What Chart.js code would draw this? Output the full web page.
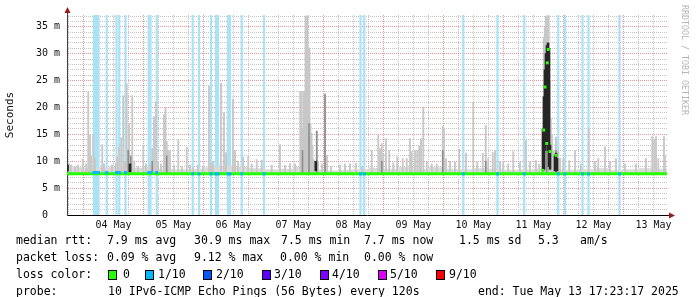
<!DOCTYPE html>
<html>
<head>
<meta charset="utf-8">
<script src="https://cdn.jsdelivr.net/npm/chart.js@4.4.1/dist/chart.umd.min.js"></script>
<style>
html, body { margin: 0; padding: 0; background: #fff; }
canvas { display: block; }
</style>
</head>
<body>
<canvas id="ping" width="697" height="297"></canvas>
<script>
// time axis is in hours counted from 03 May 00:00
var startHour = 17.4, endHour = 257.4;
var dayLabels = ['04 May','05 May','06 May','07 May','08 May','09 May','10 May','11 May','12 May','13 May'];

// median rtt (ms), stepped
var medianHours = [17.4, 57, 257.4];
var medianValues = [7.9, 7.65, 7.65];

// hours with 1/10 packet loss
var lossHours = [28.2, 28.8, 29.4, 30.0, 33.3, 37.2, 38.3, 40.8, 50.1, 50.8, 53.3, 67.7, 70.2, 75.0, 77.0, 77.8,
  81.8, 82.6, 87.3, 96.2, 134.8, 136.3, 175.9, 189.6, 200.3, 213.9, 216.6, 223.6, 226.0, 238.4];

// low smoke band just above the median
var bandHours = [18,24,30,36,42,48,54,60,66,72,78,84,90,96,102,108,114,120,126,132,138,144,150,156,162,168,
  174,180,186,192,198,204,210,216,222,228,234,240,246,252,258];
var bandTops = [8.8,8.9,8.7,8.9,9.0,8.8,8.9,8.6,8.5,8.6,8.9,9.2,9.0,8.7,8.5,8.6,9.0,8.5,8.3,8.4,8.5,8.8,8.6,8.9,
  8.5,8.9,8.6,8.5,8.7,8.6,8.4,8.5,8.6,8.5,8.4,8.5,8.7,8.4,8.5,8.7,8.6];

// light smoke spikes (max rtt of the round)
var smokeHours = [18.2,19.0,20.6,21.8,23.7,25.0,25.9,26.6,27.0,27.9,
  28.6,31.5,32.2,35.4,36.9,37.5,38.3,39.1,39.9,40.6,
  41.3,41.9,42.2,43.5,44.3,45.8,47.9,49.0,50.6,51.5,
  52.2,53.0,53.8,55.0,56.2,56.8,57.3,57.8,58.6,60.2,
  61.9,63.4,65.3,66.6,67.8,69.8,71.8,74.2,75.0,75.8,
  79.0,80.2,81.0,83.8,84.6,85.8,87.9,89.9,91.3,93.3,
  95.3,99.3,102.6,104.6,106.6,108.6,110.7,111.2,111.6,112.0,
  112.4,112.8,113.2,113.6,114.0,114.4,114.8,115.2,115.6,116.0,
  117.3,117.8,119.4,120.6,121.4,123.0,126.6,128.6,130.6,133.0,
  135.4,139.3,141.9,142.6,143.3,143.9,145.0,146.3,147.9,149.5,
  151.7,153.3,154.6,155.3,156.6,157.5,158.3,159.0,159.9,161.3,
  163.3,165.3,167.7,168.2,169.0,170.6,172.6,174.3,177.0,179.9,
  181.5,183.7,184.9,185.9,187.7,188.6,190.6,191.9,193.9,195.9,
  198.6,201.0,202.6,205.0,206.3,207.7,208.1,208.5,208.9,209.3,
  209.7,210.1,210.5,210.9,211.4,212.0,213.0,213.8,214.6,215.9,
  218.3,220.6,222.9,226.1,228.6,229.9,232.6,234.6,237.0,240.6,
  245.0,249.0,251.5,252.3,253.0,253.9,256.2,256.6];
var smokeTops = [9.5,9.3,9.0,9.3,10.4,9.5,22.8,15,11,15,
  10.5,13.1,9.5,9.3,9.6,10.8,12.6,14.4,22.2,10,
  24.4,12.4,17,22.2,10.1,9,13,9.5,9.3,12.4,
  18.3,21,10,9.5,18.7,20,13.7,12,12,9.2,
  13.9,9,12.6,9.3,8.8,9.3,9,24,9.5,10,
  24.5,19,11.6,21.5,12,10,10.8,10.9,9.5,10.3,
  10.2,9.3,13.1,9.3,9.5,9.5,23,23,16,23,
  23,37,37,37,31.2,31,17,15.2,13,10.3,
  15.6,10,9.5,22.5,11.1,9,9.3,9.5,9.5,9.6,
  9,12,14.8,12.3,13.3,11.4,14.2,12,9.7,10.8,
  10.5,10.5,14.2,11.8,12,12,12.9,14.2,20.1,9.8,
  9.5,9.5,16.5,16.1,10.5,10,9.8,12.3,11.5,21,
  9.8,11.5,16.7,10.5,11.6,12,10,10,9.5,11.8,
  9.8,13.9,9.8,10.1,9.5,14,33,35,37,37,
  37,37,25,18,15,12,14.5,12,10.5,10.5,
  10.1,12,9.5,16.1,10,10.5,12.7,10,10.5,9.5,
  9.5,10.5,14.6,13.9,14.6,10.5,14.6,11];

// darker smoke streaks
var darkHours = [41.9, 42.9, 51.5, 57.3, 111.6, 114.2, 117.3, 120.6, 143.3, 167.7, 184.9, 209.3, 213.0];
var darkTops = [12, 11, 10, 11, 12, 17, 15.6, 22.5, 10, 12, 10, 20, 12];

// dense (black) smoke
var coreHours = [17.6, 42.6, 116.9, 207.8, 208.2, 208.6, 209.0, 209.4, 209.8, 210.2, 210.6, 212.6, 213.0, 213.4];
var coreLows = [8.2, 8.0, 8.2, 8.3, 8.5, 12, 13, 13, 12, 9, 8.5, 8.2, 8.2, 8.2];
var coreTops = [9.3, 9.5, 10.0, 16, 22, 27, 30, 31.5, 32, 31, 13, 11, 11.5, 10.5];

// median values during the 11 May event
var spikeMedHours = [207.7, 208.1, 208.6, 209.3, 209.5, 209.9, 210.6, 213.0];
var spikeMedValues = [8.3, 15.8, 23.8, 13.3, 28.3, 30.8, 11.8, 11.1];

// legend
var rttStats = ['7.9 ms avg', '30.9 ms max', '7.5 ms min', '7.7 ms now', '1.5 ms sd', '5.3', 'am/s'];
var lossStats = ['0.09 % avg', '9.12 % max', '0.00 % min', '0.00 % now'];
var lossNames = ['0', '1/10', '2/10', '3/10', '4/10', '5/10', '9/10'];
var lossColors = ['#26ff00', '#00b8ff', '#0059ff', '#5e00ff', '#7e00ff', '#dd00ff', '#ff0000'];
var probeText = '10 IPv6-ICMP Echo Pings (56 Bytes) every 120s';
var endText = 'end: Tue May 13 17:23:17 2025';

function medianAt(h) {
  var v = medianValues[0];
  for (var i = 0; i < medianHours.length; i++) {
    if (medianHours[i] <= h) v = medianValues[i];
  }
  return v;
}

var xTicks = [];
for (var t = 18; t <= endHour; t += 6) xTicks.push(t);
var yTicks = [];
for (var k = 0; k <= 37; k++) yTicks.push(k);

var MONO = 'DejaVu Sans Mono';
var redGrid = 'rgba(215,70,70,0.55)';
var grayGrid = '#c4c4c4';

var decor = {
  id: 'decor',
  afterDraw: function(chart) {
    var ctx = chart.ctx, a = chart.chartArea;
    ctx.save();
    // axis arrows
    ctx.strokeStyle = '#404040';
    ctx.lineWidth = 1;
    ctx.beginPath(); ctx.moveTo(a.left + 0.5, a.top); ctx.lineTo(a.left + 0.5, a.top - 4); ctx.stroke();
    ctx.strokeStyle = '#000';
    ctx.beginPath(); ctx.moveTo(a.right, a.bottom + 0.5); ctx.lineTo(a.right + 4, a.bottom + 0.5); ctx.stroke();
    ctx.fillStyle = '#9b1b1b';
    ctx.beginPath(); ctx.moveTo(a.left - 2.5, a.top - 2); ctx.lineTo(a.left + 3.5, a.top - 2); ctx.lineTo(a.left + 0.5, a.top - 8); ctx.fill();
    ctx.beginPath(); ctx.moveTo(a.right + 2, a.bottom - 2.5); ctx.lineTo(a.right + 2, a.bottom + 3.5); ctx.lineTo(a.right + 8, a.bottom + 0.5); ctx.fill();

    // watermark
    ctx.save();
    ctx.translate(684, 5);
    ctx.rotate(Math.PI / 2);
    ctx.fillStyle = '#b4b4b4';
    ctx.font = '8.3px ' + MONO;
    ctx.textBaseline = 'middle';
    ctx.fillText('RRDTOOL / TOBI OETIKER', 0, 0);
    ctx.restore();

    // legend
    ctx.fillStyle = '#000';
    ctx.font = '11.5px ' + MONO;
    ctx.textBaseline = 'middle';
    ctx.textAlign = 'left';
    var rttX = [107, 194, 281, 364, 459, 538, 580];
    ctx.fillText('median rtt:', 16, 241);
    rttStats.forEach(function(s, i) { ctx.fillText(s, rttX[i], 241); });
    var lossX = [107, 194, 280, 364];
    ctx.fillText('packet loss:', 16, 258);
    lossStats.forEach(function(s, i) { ctx.fillText(s, lossX[i], 258); });
    ctx.fillText('loss color:', 16, 275);
    var boxX = [108, 145, 203, 262, 320, 378, 436];
    var nameX = [123, 158, 216, 274, 332, 390, 449];
    lossNames.forEach(function(n, i) {
      ctx.fillStyle = lossColors[i];
      ctx.fillRect(boxX[i], 270, 9, 10);
      ctx.strokeStyle = '#000';
      ctx.strokeRect(boxX[i] + 0.5, 270.5, 8, 9);
      ctx.fillStyle = '#000';
      ctx.fillText(n, nameX[i], 275);
    });
    ctx.fillText('probe:', 16, 292);
    ctx.fillText(probeText, 108, 292);
    ctx.fillText(endText, 478, 292);
    ctx.restore();
  }
};

var ctx = document.getElementById('ping').getContext('2d');
var chart = new Chart(ctx, {
  type: 'bar',
  data: {
    datasets: [
      {
        type: 'line',
        data: medianHours.map(function(h, i) { return { x: h, y: medianValues[i] }; }),
        stepped: 'after', borderColor: '#26ff00', borderWidth: 3, pointRadius: 0, fill: false, order: 1
      },
      {
        type: 'line',
        data: lossHours.map(function(h) { return { x: h, y: medianAt(h) }; }),
        showLine: false, pointStyle: 'rect', pointRadius: 2.1, pointBackgroundColor: '#00b8ff', pointBorderWidth: 0, order: 0
      },
      {
        type: 'line',
        data: spikeMedHours.map(function(h, i) { return { x: h, y: spikeMedValues[i] }; }),
        showLine: false, pointStyle: 'rect', pointRadius: 2.1, pointBackgroundColor: '#26ff00', pointBorderWidth: 0, order: 0
      },
      {
        data: coreHours.map(function(h, i) { return { x: h, y: [coreLows[i], coreTops[i]] }; }),
        backgroundColor: '#262626', barThickness: 2, grouped: false, order: 2
      },
      {
        data: darkHours.map(function(h, i) { return { x: h, y: [7.7, darkTops[i]] }; }),
        backgroundColor: '#8e8e8e', barThickness: 1, grouped: false, order: 3
      },
      {
        data: smokeHours.map(function(h, i) { return { x: h, y: [7.6, smokeTops[i]] }; }),
        backgroundColor: '#c8c8c8', barThickness: 1.2, grouped: false, order: 4
      },
      {
        type: 'line',
        data: bandHours.map(function(h, i) { return { x: h, y: bandTops[i] }; }),
        stepped: 'after', borderWidth: 0, pointRadius: 0, fill: { value: 7.6 }, backgroundColor: '#dadada', order: 5
      },
      {
        data: lossHours.map(function(h) { return { x: h, y: [0, 37.2] }; }),
        backgroundColor: '#abe2f6', barThickness: 1.6, grouped: false, order: 6
      }
    ]
  },
  options: {
    responsive: false,
    animation: false,
    devicePixelRatio: 1,
    layout: { padding: { top: 15, right: 30, left: 0, bottom: 0 } },
    plugins: { legend: { display: false }, tooltip: { enabled: false } },
    scales: {
      x: {
        type: 'linear', min: startHour, max: endHour, offset: false,
        afterBuildTicks: function(s) { s.ticks = xTicks.map(function(v) { return { value: v }; }); },
        afterFit: function(s) { s.height = 82; },
        grid: {
          offset: false, drawTicks: false, lineWidth: 1,
          color: function(c) { return c.tick && c.tick.value % 24 === 0 ? redGrid : grayGrid; }
        },
        border: { display: true, color: '#000', width: 1, dash: [1, 1] },
        ticks: {
          autoSkip: false, maxRotation: 0, padding: 4, color: '#111',
          font: { family: MONO, size: 10 },
          callback: function(v) { return v % 24 === 12 ? dayLabels[(v - 36) / 24] : ''; }
        }
      },
      y: {
        min: 0, max: 37.2,
        afterBuildTicks: function(s) { s.ticks = yTicks.map(function(v) { return { value: v }; }); },
        afterFit: function(s) { s.width = 67; },
        grid: {
          drawTicks: false, lineWidth: 1,
          color: function(c) { return c.tick && c.tick.value % 5 === 0 ? redGrid : grayGrid; }
        },
        border: { display: true, color: '#404040', width: 1, dash: [1, 1] },
        title: { display: true, text: 'Seconds', color: '#111', font: { family: MONO, size: 11 }, padding: { top: 4, bottom: 0 } },
        ticks: {
          autoSkip: false, padding: 7, color: '#111',
          font: { family: MONO, size: 10 },
          callback: function(v) { return v === 0 ? '0  ' : (v % 5 === 0 ? v + ' m' : ''); }
        }
      }
    }
  },
  plugins: [decor]
});
</script>
</body>
</html>
